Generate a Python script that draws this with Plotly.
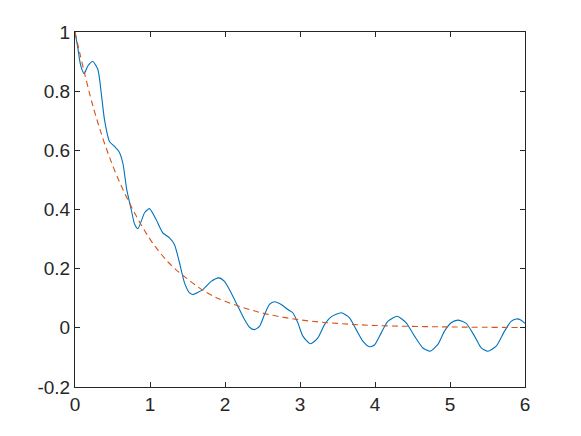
import plotly.graph_objects as go

# oscillating response (solid blue)
x_resp = [0, 0.037, 0.073, 0.122, 0.171, 0.238, 0.304, 0.357, 0.393, 0.46, 0.527,
          0.584, 0.638, 0.69, 0.749, 0.795, 0.838, 0.89, 0.927, 0.993, 1.082,
          1.171, 1.26, 1.327, 1.393, 1.46, 1.527, 1.571, 1.704, 1.816, 1.918,
          1.993, 2.083, 2.171, 2.26, 2.327, 2.393, 2.46, 2.527, 2.593, 2.66,
          2.749, 2.838, 2.904, 2.971, 3.038, 3.14, 3.238, 3.327, 3.416, 3.549,
          3.66, 3.749, 3.838, 3.927, 3.993, 4.083, 4.171, 4.296, 4.416, 4.527,
          4.638, 4.736, 4.838, 4.927, 5.016, 5.104, 5.216, 5.327, 5.416, 5.504,
          5.616, 5.727, 5.816, 5.882, 5.949, 6.0]
y_resp = [1.0, 0.947, 0.89, 0.859, 0.885, 0.9, 0.874, 0.778, 0.704, 0.63, 0.613,
          0.597, 0.557, 0.467, 0.4, 0.35, 0.335, 0.365, 0.389, 0.403, 0.366,
          0.321, 0.304, 0.281, 0.22, 0.152, 0.118, 0.1125, 0.129, 0.157, 0.169,
          0.157, 0.118, 0.073, 0.028, 0.002, -0.006, 0.005, 0.045, 0.079, 0.088,
          0.079, 0.062, 0.051, 0.017, -0.028, -0.054, -0.034, 0.011, 0.037, 0.051,
          0.034, -0.006, -0.045, -0.064, -0.058, -0.017, 0.022, 0.039, 0.017, -0.028,
          -0.068, -0.079, -0.056, -0.011, 0.017, 0.026, 0.015, -0.028, -0.068, -0.079,
          -0.062, -0.011, 0.022, 0.030, 0.026, 0.015]

# envelope (dashed orange)
x_env = [0, 0.25, 0.5, 0.75, 1.0, 1.25, 1.5, 1.75, 2.0, 2.5, 3.0, 3.5, 4.0, 5.0, 6.0]
y_env = [1.0, 0.74, 0.55, 0.41, 0.30, 0.22, 0.165, 0.12, 0.09, 0.05, 0.027,
         0.015, 0.008, 0.003, 0.001]

fig = go.Figure()
fig.add_trace(go.Scatter(x=x_resp, y=y_resp, mode="lines",
                         line=dict(color="#0072BD", width=1.1, shape="spline", smoothing=0.6)))
fig.add_trace(go.Scatter(x=x_env, y=y_env, mode="lines",
                         line=dict(color="#D95319", width=1.1, dash="6px,4px", shape="spline")))

axis_style = dict(
    showline=True, linecolor="#262626", linewidth=1, mirror="ticks",
    ticks="inside", ticklen=5, tickcolor="#262626", showgrid=False, zeroline=False,
    tickfont=dict(family="Liberation Sans, Arial", size=19, color="#262626"),
)
fig.update_xaxes(range=[0, 6], tickvals=[0, 1, 2, 3, 4, 5, 6], **axis_style)
fig.update_yaxes(range=[-0.2, 1], tickvals=[-0.2, 0, 0.2, 0.4, 0.6, 0.8, 1],
                 ticktext=["-0.2", "0", "0.2", "0.4", "0.6", "0.8", "1"], **axis_style)

fig.update_layout(
    width=573, height=428,
    margin=dict(l=67, r=56, t=24, b=49),
    paper_bgcolor="white", plot_bgcolor="white",
    showlegend=False,
)

fig.write_html("out.html")
